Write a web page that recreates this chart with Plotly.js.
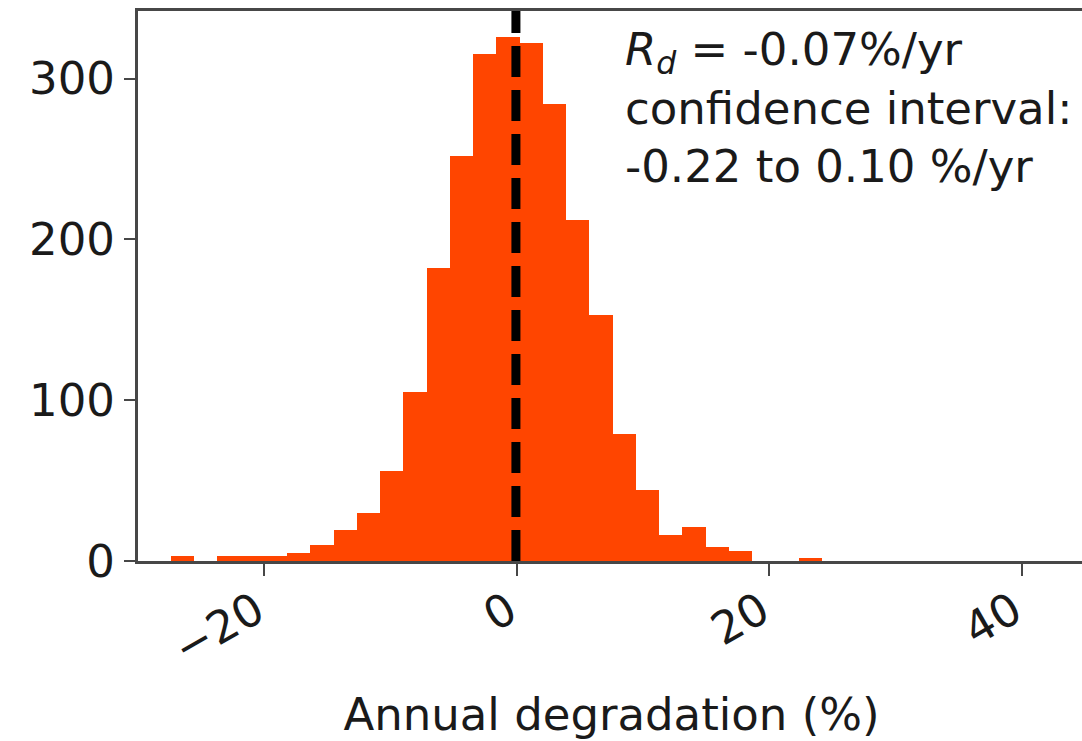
<!DOCTYPE html>
<html><head><meta charset="utf-8">
<script src="https://cdn.plot.ly/plotly-3.0.1.min.js"></script>
<style>html,body{margin:0;padding:0;overflow:hidden;background:#fff}#chart{width:1085px;height:741px}</style>
</head><body><div id="chart"></div>
<script>
// Histogram bins (left edges, % per year) and counts
const binStarts = [-27.40, -25.56, -23.72, -21.88, -20.04, -18.20, -16.35, -14.51, -12.67, -10.83,
                   -8.99, -7.15, -5.31, -3.47, -1.63, 0.22, 2.06, 3.90, 5.74, 7.58,
                   9.42, 11.26, 13.10, 14.94, 16.78, 18.63, 20.47, 22.31];
const counts = [3, 0, 3, 3, 3, 5, 10, 19, 30, 56,
                105, 182, 252, 315, 326, 322, 284, 212, 153, 79,
                44, 16, 21, 9, 6, 0, 0, 2];
const binWidth = 1.845;
const rdValue = -0.07;
const xTickVals = [-20, 0, 20, 40];
const yTickVals = [0, 100, 200, 300];
const xRange = [-30, 45];
const yRange = [0, 342];
const annotationLines = ["<i>R</i><sub><i>d</i></sub> = -0.07%/yr", "confidence interval:", "-0.22 to 0.10 %/yr"];
const xTitle = "Annual degradation (%)";

const FONT = "DejaVu Sans, sans-serif";
const spine = "#474747";
const txt = "#1a1a1a";

const trace = {
  type: "bar",
  x: binStarts,
  y: counts,
  width: binWidth,
  offset: 0,
  marker: {color: "#FF4500", line: {color: "#FF4500", width: 0}},
  hoverinfo: "x+y"
};

const layout = {
  width: 1085, height: 741,
  margin: {l: 138, r: 0, t: 11, b: 180},
  paper_bgcolor: "#fff", plot_bgcolor: "#fff",
  showlegend: false,
  bargap: 0,
  font: {family: FONT, size: 45, color: txt},
  xaxis: {
    range: xRange, tickvals: xTickVals, tickangle: -30,
    showgrid: false, zeroline: false,
    showline: true, linecolor: spine, linewidth: 3, mirror: true,
    ticks: "outside", ticklen: 12, tickwidth: 2, tickcolor: spine,
    ticklabelshift: -8, ticklabelstandoff: -9,
    tickfont: {family: FONT, size: 45, color: txt},
    title: {text: xTitle, font: {family: FONT, size: 45, color: txt}, standoff: 27}
  },
  yaxis: {
    range: yRange, tickvals: yTickVals,
    showgrid: false, zeroline: false,
    showline: true, linecolor: spine, linewidth: 3, mirror: true,
    ticks: "outside", ticklen: 11, tickwidth: 2, tickcolor: spine,
    tickfont: {family: FONT, size: 45, color: txt}
  },
  shapes: [{
    type: "line", xref: "x", yref: "paper",
    x0: rdValue, x1: rdValue, y0: 0, y1: 1,
    line: {color: "#000", width: 9, dash: "31px,13px"}
  }],
  annotations: [{
    xref: "paper", yref: "paper", x: 0.512, y: 0.982,
    xanchor: "left", yanchor: "top", align: "left", showarrow: false,
    text: annotationLines.join("<br>"),
    font: {family: FONT, size: 45, color: txt}
  }]
};

Plotly.newPlot("chart", [trace], layout, {displayModeBar: false, staticPlot: true});
</script>
</body></html>
